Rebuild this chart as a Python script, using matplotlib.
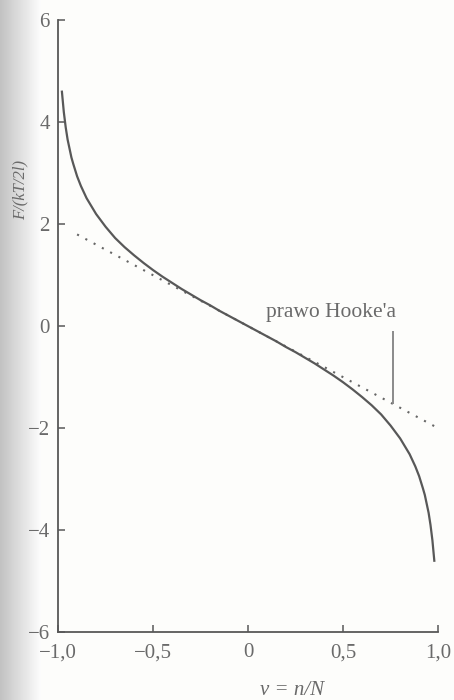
import numpy as np
import matplotlib
matplotlib.use("Agg")
import matplotlib.pyplot as plt

# values
nu = [-0.98, -0.97, -0.96, -0.95, -0.93, -0.92, -0.9, -0.88, -0.85, -0.8, -0.75, -0.7, -0.65,
      -0.6, -0.55, -0.5, -0.45, -0.4, -0.35, -0.3, -0.25, -0.2, -0.15, -0.1, -0.05, 0.0,
      0.05, 0.1, 0.15, 0.2, 0.25, 0.3, 0.35, 0.4, 0.45, 0.5, 0.55, 0.6, 0.65, 0.7,
      0.75, 0.8, 0.85, 0.88, 0.9, 0.92, 0.93, 0.95, 0.96, 0.97, 0.98]
force = [4.6, 4.2, 3.9, 3.66, 3.31, 3.18, 2.94, 2.75, 2.51, 2.2, 1.95, 1.73, 1.55,
         1.39, 1.24, 1.10, 0.97, 0.85, 0.73, 0.62, 0.51, 0.41, 0.30, 0.20, 0.10, 0.0,
         -0.10, -0.20, -0.30, -0.41, -0.51, -0.62, -0.73, -0.85, -0.97, -1.10, -1.24, -1.39, -1.55, -1.73,
         -1.95, -2.2, -2.51, -2.75, -2.94, -3.18, -3.31, -3.66, -3.9, -4.2, -4.6]
hooke_nu = [-0.9, 1.0]
hooke_force = [1.8, -2.0]
label_text = "prawo Hooke'a"

xticks = [-1.0, -0.5, 0.0, 0.5, 1.0]
xticklabels = ["\u22121,0", "\u22120,5", "0", "0,5", "1,0"]
yticks = [-6, -4, -2, 0, 2, 4, 6]
yticklabels = ["\u22126", "\u22124", "\u22122", "0", "2", "4", "6"]

plt.rcParams['font.family'] = ['Liberation Serif', 'DejaVu Serif']
ink = '#585858'
txt = '#6a6a6a'

fig = plt.figure(figsize=(4.54, 7.0), dpi=100)
fig.patch.set_facecolor('#fdfdfb')

# scanner shading on the left edge
shade = fig.add_axes([0, 0, 0.09, 1])
grad = np.linspace(0.76, 0.99, 64)[None, :]
shade.imshow(grad, cmap='gray', vmin=0, vmax=1, aspect='auto', extent=[0, 1, 0, 1])
shade.axis('off')

ax = fig.add_axes([0.128, 0.097, 0.837, 0.874])
ax.set_facecolor('none')

ax.plot(hooke_nu, hooke_force, linestyle=(0, (1, 3.5)), color='#666666', lw=1.5)
ax.plot(nu, force, color=ink, lw=1.6)

# label and pointer line
ax.text(0.095, 0.26, label_text, color=txt, fontsize=15.5, ha='left', va='center')
ax.vlines(0.763, -1.52, -0.1, color='#8a8a8a', lw=1.4)

ax.set_xlim(-1.0, 1.0)
ax.set_ylim(-6, 6)
ax.set_xticks(xticks)
ax.set_xticklabels(xticklabels)
ax.set_yticks(yticks)
ax.set_yticklabels(yticklabels)
ax.tick_params(direction='in', length=5, width=1.1, color=ink, labelcolor=txt, labelsize=15)
ax.tick_params(axis='x', pad=8)
ax.tick_params(axis='y', pad=6)

for s in ['top', 'right']:
    ax.spines[s].set_visible(False)
for s in ['left', 'bottom']:
    ax.spines[s].set_color(ink)
    ax.spines[s].set_linewidth(1.3)

ax.set_xlabel("\u03bd = n/N", color=txt, fontsize=15, style='italic', va='center')
ax.xaxis.set_label_coords(0.616, -0.095)
ax.set_ylabel("F/(kT/2l)", color=txt, fontsize=12, style='italic', va='center')
ax.yaxis.set_label_coords(-0.10, 0.722)

fig.savefig("out.png", dpi=100, facecolor=fig.get_facecolor())
